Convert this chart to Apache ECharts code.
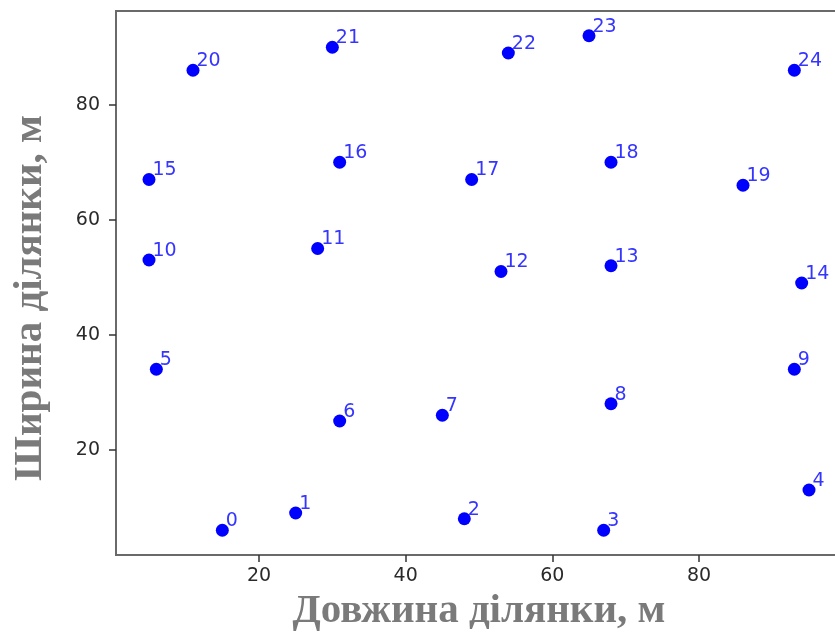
<!DOCTYPE html>
<html>
<head>
<meta charset="utf-8">
<script src="https://cdn.jsdelivr.net/npm/echarts@6/dist/echarts.min.js"></script>
<style>
  html, body { margin: 0; padding: 0; background: #fff; overflow: hidden; }
  #chart { width: 845px; height: 637px; }
</style>
</head>
<body>
<div id="chart"></div>
<script>
// Plot coordinates of the numbered sites (metres)
const siteIds = [0, 1, 2, 3, 4, 5, 6, 7, 8, 9, 10, 11, 12, 13, 14, 15, 16, 17, 18, 19, 20, 21, 22, 23, 24];
const lengthX = [15, 25, 48, 67, 95, 6, 31, 45, 68, 93, 5, 28, 53, 68, 94, 5, 31, 49, 68, 86, 11, 30, 54, 65, 93];
const widthY  = [6, 9, 8, 6, 13, 34, 25, 26, 28, 34, 53, 55, 51, 52, 49, 67, 70, 67, 70, 66, 86, 90, 89, 92, 86];

const xTicks = [20, 40, 60, 80];
const yTicks = [20, 40, 60, 80];

const xName = 'Довжина ділянки, м';
const yName = 'Ширина ділянки, м';

const points = siteIds.map((id, i) => [lengthX[i], widthY[i], id]);

const chart = echarts.init(document.getElementById('chart'), null, { renderer: 'canvas' });

const tickFont = { fontFamily: 'DejaVu Sans', fontSize: 19, color: '#2a2a2a' };
const titleFont = { fontFamily: 'Liberation Serif', fontWeight: 'bold', fontSize: 41, color: '#7a7a7a' };

chart.setOption({
  animation: false,
  backgroundColor: '#ffffff',
  grid: {
    left: 116, top: 11, width: 726, height: 546,
    show: true, borderColor: '#6a6a6a', borderWidth: 2,
    containLabel: false
  },
  xAxis: {
    type: 'value', min: 0.5, max: 99.5,
    splitLine: { show: false },
    axisLine: { show: true, lineStyle: { color: '#6a6a6a', width: 2 } },
    axisTick: { show: true, length: 7, customValues: xTicks, lineStyle: { color: '#333', width: 1.5 } },
    axisLabel: { customValues: xTicks, margin: 12, ...tickFont },
    name: xName, nameLocation: 'middle', nameGap: 36,
    nameTextStyle: titleFont
  },
  yAxis: {
    type: 'value', min: 1.7, max: 96.3,
    splitLine: { show: false },
    axisLine: { show: true, lineStyle: { color: '#6a6a6a', width: 2 } },
    axisTick: { show: true, length: 7, customValues: yTicks, lineStyle: { color: '#333', width: 1.5 } },
    axisLabel: { customValues: yTicks, margin: 16, ...tickFont },
    name: yName, nameLocation: 'middle', nameGap: 65, nameRotate: 90,
    nameTextStyle: { ...titleFont, padding: [0, 30, 0, 0] }
  },
  series: [{
    type: 'scatter',
    data: points,
    symbol: 'circle',
    symbolSize: 13,
    itemStyle: { color: '#0000ff', opacity: 1 },
    label: {
      show: true,
      formatter: p => String(p.data[2]),
      position: [10, 7],
      align: 'left',
      verticalAlign: 'bottom',
      fontFamily: 'DejaVu Sans',
      fontSize: 19,
      color: '#3535ff'
    },
    emphasis: { disabled: true }
  }]
});
</script>
</body>
</html>
